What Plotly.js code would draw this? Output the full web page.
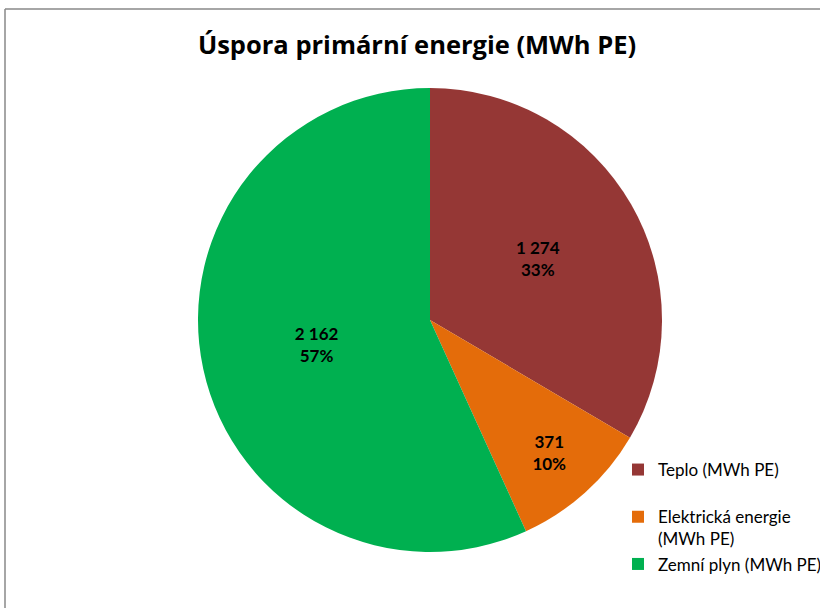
<!DOCTYPE html>
<html>
<head>
<meta charset="utf-8">
<script src="https://cdn.plot.ly/plotly-3.0.1.min.js"></script>
<style>html,body{margin:0;padding:0;background:#fff;} #chart{width:820px;height:608px;}</style>
</head>
<body>
<div id="chart"></div>
<script>
const labels = ["Teplo (MWh PE)<br> ", "Elektrická energie<br>(MWh PE)", "Zemní plyn (MWh PE)"];
const values = [1274, 371, 2162];
const colors = ["#953735", "#E46C0A", "#00B050"];
const titleText = "Úspora primární energie (MWh PE)";

const trace = {
  type: "pie",
  labels: labels,
  values: values,
  sort: false,
  direction: "clockwise",
  rotation: 0,
  marker: {colors: colors, line: {width: 0}},
  texttemplate: "<b>%{value:,}<br>%{percent:.0%}</b>",
  textposition: "inside",
  insidetextorientation: "horizontal",
  textfont: {family: "Lato, sans-serif", size: 17, color: "#000"},
  hoverinfo: "none",
  domain: {x: [198/820, 662/820], y: [1 - 552/608, 1 - 88/608]}
};

const layout = {
  width: 820, height: 608,
  margin: {l: 0, r: 0, t: 0, b: 0, autoexpand: false},
  separators: ", ",
  paper_bgcolor: "#fff",
  title: {text: "<b>" + titleText + "</b>", font: {family: "Open Sans, sans-serif", size: 25.5, color: "#000"},
          x: 417/820, xanchor: "center", y: 1 - 45/608, yanchor: "middle"},
  showlegend: true,
  legend: {x: 618/820, xanchor: "left", y: 1 - 452/608, yanchor: "top",
           font: {family: "Lato, sans-serif", size: 17, color: "#000"},
           bgcolor: "rgba(0,0,0,0)", valign: "top", itemwidth: 30, tracegroupgap: 0},
  shapes: [
    {type: "line", xref: "paper", yref: "paper", x0: 5/820, x1: 1.01, y0: 1 - 9/608, y1: 1 - 9/608, line: {color: "#888", width: 1.5}},
    {type: "line", xref: "paper", yref: "paper", x0: 5/820, x1: 5/820, y0: 1 - 9/608, y1: -0.01, line: {color: "#888", width: 1.5}}
  ]
};

Plotly.newPlot("chart", [trace], layout, {displayModeBar: false, staticPlot: true});
</script>
</body>
</html>
